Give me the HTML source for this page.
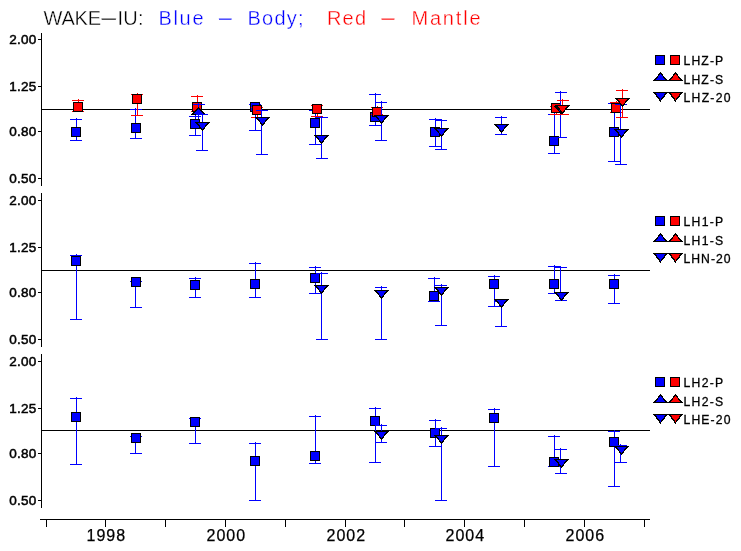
<!DOCTYPE html>
<html lang="en"><head><meta charset="utf-8"><title>WAKE-IU: Blue - Body; Red - Mantle</title>
<style>
html,body{margin:0;padding:0;background:#fff;}
svg{display:block;}
text{font-family:"Liberation Sans",sans-serif;}
.tt{font-size:20px;stroke:#fff;stroke-width:0.35px;}
.yt{font-size:13.5px;letter-spacing:0.3px;stroke:#000;stroke-width:0.5px;}
.xt{font-size:16px;stroke:#000;stroke-width:0.25px;}
.lg{font-size:12.2px;stroke:#000;stroke-width:0.3px;}
</style></head>
<body>
<svg width="741" height="551" viewBox="0 0 741 551">
<rect x="0" y="0" width="741" height="551" fill="#ffffff"/>
<g shape-rendering="crispEdges">
<rect x="41" y="33" width="1" height="153" fill="#000000"/>
<rect x="41" y="193" width="1" height="154" fill="#000000"/>
<rect x="41" y="354" width="1" height="154" fill="#000000"/>
<rect x="38" y="39" width="3" height="1" fill="#000000"/>
<rect x="38" y="86" width="3" height="1" fill="#000000"/>
<rect x="38" y="131" width="3" height="1" fill="#000000"/>
<rect x="38" y="178" width="3" height="1" fill="#000000"/>
<rect x="38" y="200" width="3" height="1" fill="#000000"/>
<rect x="38" y="247" width="3" height="1" fill="#000000"/>
<rect x="38" y="292" width="3" height="1" fill="#000000"/>
<rect x="38" y="339" width="3" height="1" fill="#000000"/>
<rect x="38" y="361" width="3" height="1" fill="#000000"/>
<rect x="38" y="408" width="3" height="1" fill="#000000"/>
<rect x="38" y="453" width="3" height="1" fill="#000000"/>
<rect x="38" y="500" width="3" height="1" fill="#000000"/>
<rect x="40" y="519" width="610" height="1" fill="#000000"/>
<rect x="46" y="519" width="1" height="8" fill="#000000"/>
<rect x="105" y="519" width="1" height="8" fill="#000000"/>
<rect x="165" y="519" width="1" height="8" fill="#000000"/>
<rect x="225" y="519" width="1" height="8" fill="#000000"/>
<rect x="285" y="519" width="1" height="8" fill="#000000"/>
<rect x="345" y="519" width="1" height="8" fill="#000000"/>
<rect x="404" y="519" width="1" height="8" fill="#000000"/>
<rect x="464" y="519" width="1" height="8" fill="#000000"/>
<rect x="524" y="519" width="1" height="8" fill="#000000"/>
<rect x="584" y="519" width="1" height="8" fill="#000000"/>
<rect x="644" y="519" width="1" height="8" fill="#000000"/>
<rect x="42" y="109" width="608" height="1" fill="#000000"/>
<rect x="42" y="270" width="608" height="1" fill="#000000"/>
<rect x="42" y="430" width="608" height="1" fill="#000000"/>
<rect x="76" y="118" width="1" height="23" fill="#0000ff"/>
<rect x="70" y="119" width="12" height="1" fill="#0000ff"/>
<rect x="70" y="140" width="12" height="1" fill="#0000ff"/>
<rect x="135" y="108" width="1" height="31" fill="#0000ff"/>
<rect x="130" y="109" width="12" height="1" fill="#0000ff"/>
<rect x="130" y="138" width="12" height="1" fill="#0000ff"/>
<rect x="195" y="115" width="1" height="21" fill="#0000ff"/>
<rect x="189" y="116" width="12" height="1" fill="#0000ff"/>
<rect x="189" y="135" width="12" height="1" fill="#0000ff"/>
<rect x="255" y="103" width="1" height="28" fill="#0000ff"/>
<rect x="249" y="104" width="12" height="1" fill="#0000ff"/>
<rect x="249" y="130" width="12" height="1" fill="#0000ff"/>
<rect x="315" y="109" width="1" height="36" fill="#0000ff"/>
<rect x="309" y="110" width="12" height="1" fill="#0000ff"/>
<rect x="309" y="144" width="12" height="1" fill="#0000ff"/>
<rect x="375" y="93" width="1" height="33" fill="#0000ff"/>
<rect x="369" y="94" width="12" height="1" fill="#0000ff"/>
<rect x="369" y="125" width="12" height="1" fill="#0000ff"/>
<rect x="435" y="118" width="1" height="29" fill="#0000ff"/>
<rect x="429" y="119" width="12" height="1" fill="#0000ff"/>
<rect x="429" y="146" width="12" height="1" fill="#0000ff"/>
<rect x="554" y="113" width="1" height="41" fill="#0000ff"/>
<rect x="548" y="114" width="12" height="1" fill="#0000ff"/>
<rect x="548" y="153" width="12" height="1" fill="#0000ff"/>
<rect x="614" y="102" width="1" height="60" fill="#0000ff"/>
<rect x="608" y="103" width="12" height="1" fill="#0000ff"/>
<rect x="608" y="161" width="12" height="1" fill="#0000ff"/>
<rect x="71.5" y="127.5" width="9" height="9" fill="#0000ff" stroke="#000000" stroke-width="1"/>
<rect x="131.5" y="123.5" width="9" height="9" fill="#0000ff" stroke="#000000" stroke-width="1"/>
<rect x="190.5" y="119.5" width="9" height="9" fill="#0000ff" stroke="#000000" stroke-width="1"/>
<rect x="250.5" y="102.5" width="9" height="9" fill="#0000ff" stroke="#000000" stroke-width="1"/>
<rect x="310.5" y="118.5" width="9" height="9" fill="#0000ff" stroke="#000000" stroke-width="1"/>
<rect x="370.5" y="112.5" width="9" height="9" fill="#0000ff" stroke="#000000" stroke-width="1"/>
<rect x="430.5" y="127.5" width="9" height="9" fill="#0000ff" stroke="#000000" stroke-width="1"/>
<rect x="549.5" y="136.5" width="9" height="9" fill="#0000ff" stroke="#000000" stroke-width="1"/>
<rect x="609.5" y="127.5" width="9" height="9" fill="#0000ff" stroke="#000000" stroke-width="1"/>
<rect x="78" y="99" width="1" height="13" fill="#ff0000"/>
<rect x="72" y="100" width="12" height="1" fill="#ff0000"/>
<rect x="72" y="111" width="12" height="1" fill="#ff0000"/>
<rect x="137" y="93" width="1" height="23" fill="#ff0000"/>
<rect x="131" y="94" width="12" height="1" fill="#ff0000"/>
<rect x="131" y="115" width="12" height="1" fill="#ff0000"/>
<rect x="197" y="95" width="1" height="17" fill="#ff0000"/>
<rect x="191" y="96" width="12" height="1" fill="#ff0000"/>
<rect x="191" y="111" width="12" height="1" fill="#ff0000"/>
<rect x="257" y="106" width="1" height="12" fill="#ff0000"/>
<rect x="251" y="107" width="12" height="1" fill="#ff0000"/>
<rect x="251" y="117" width="12" height="1" fill="#ff0000"/>
<rect x="317" y="104" width="1" height="13" fill="#ff0000"/>
<rect x="311" y="105" width="12" height="1" fill="#ff0000"/>
<rect x="311" y="116" width="12" height="1" fill="#ff0000"/>
<rect x="377" y="106" width="1" height="9" fill="#ff0000"/>
<rect x="371" y="107" width="12" height="1" fill="#ff0000"/>
<rect x="371" y="114" width="12" height="1" fill="#ff0000"/>
<rect x="556" y="105" width="1" height="10" fill="#ff0000"/>
<rect x="550" y="106" width="12" height="1" fill="#ff0000"/>
<rect x="550" y="114" width="12" height="1" fill="#ff0000"/>
<rect x="616" y="101" width="1" height="12" fill="#ff0000"/>
<rect x="610" y="102" width="12" height="1" fill="#ff0000"/>
<rect x="610" y="112" width="12" height="1" fill="#ff0000"/>
<rect x="73.5" y="102.5" width="9" height="9" fill="#ff0000" stroke="#000000" stroke-width="1"/>
<rect x="132.5" y="94.5" width="9" height="9" fill="#ff0000" stroke="#000000" stroke-width="1"/>
<rect x="192.5" y="102.5" width="9" height="9" fill="#ff0000" stroke="#000000" stroke-width="1"/>
<rect x="252.5" y="105.5" width="9" height="9" fill="#ff0000" stroke="#000000" stroke-width="1"/>
<rect x="312.5" y="104.5" width="9" height="9" fill="#ff0000" stroke="#000000" stroke-width="1"/>
<rect x="372.5" y="107.5" width="9" height="9" fill="#ff0000" stroke="#000000" stroke-width="1"/>
<rect x="551.5" y="103.5" width="9" height="9" fill="#ff0000" stroke="#000000" stroke-width="1"/>
<rect x="611.5" y="103.5" width="9" height="9" fill="#ff0000" stroke="#000000" stroke-width="1"/>
<rect x="198" y="103" width="1" height="16" fill="#0000ff"/>
<rect x="193" y="104" width="12" height="1" fill="#0000ff"/>
<polygon points="191,115 206,115 198.5,107" fill="#000000"/>
<polygon points="193.5,114 203.5,114 198.5,108.67" fill="#0000ff"/>
<rect x="202" y="113" width="1" height="38" fill="#0000ff"/>
<rect x="196" y="114" width="12" height="1" fill="#0000ff"/>
<rect x="196" y="150" width="12" height="1" fill="#0000ff"/>
<rect x="261" y="109" width="1" height="46" fill="#0000ff"/>
<rect x="256" y="110" width="12" height="1" fill="#0000ff"/>
<rect x="256" y="154" width="12" height="1" fill="#0000ff"/>
<rect x="321" y="116" width="1" height="43" fill="#0000ff"/>
<rect x="316" y="117" width="12" height="1" fill="#0000ff"/>
<rect x="316" y="158" width="12" height="1" fill="#0000ff"/>
<rect x="381" y="101" width="1" height="40" fill="#0000ff"/>
<rect x="375" y="102" width="12" height="1" fill="#0000ff"/>
<rect x="375" y="140" width="12" height="1" fill="#0000ff"/>
<rect x="441" y="119" width="1" height="31" fill="#0000ff"/>
<rect x="435" y="120" width="12" height="1" fill="#0000ff"/>
<rect x="435" y="149" width="12" height="1" fill="#0000ff"/>
<rect x="501" y="116" width="1" height="19" fill="#0000ff"/>
<rect x="495" y="117" width="12" height="1" fill="#0000ff"/>
<rect x="495" y="134" width="12" height="1" fill="#0000ff"/>
<rect x="560" y="91" width="1" height="47" fill="#0000ff"/>
<rect x="555" y="92" width="12" height="1" fill="#0000ff"/>
<rect x="555" y="137" width="12" height="1" fill="#0000ff"/>
<rect x="620" y="103" width="1" height="62" fill="#0000ff"/>
<rect x="615" y="104" width="12" height="1" fill="#0000ff"/>
<rect x="615" y="164" width="12" height="1" fill="#0000ff"/>
<polygon points="195,122 210,122 202.5,131" fill="#000000"/>
<polygon points="197.5,123 207.5,123 202.5,129.00" fill="#0000ff"/>
<polygon points="255,117 270,117 262.5,126" fill="#000000"/>
<polygon points="257.5,118 267.5,118 262.5,124.00" fill="#0000ff"/>
<polygon points="314,135 329,135 321.5,144" fill="#000000"/>
<polygon points="316.5,136 326.5,136 321.5,142.00" fill="#0000ff"/>
<polygon points="374,115 389,115 381.5,124" fill="#000000"/>
<polygon points="376.5,116 386.5,116 381.5,122.00" fill="#0000ff"/>
<polygon points="434,128 449,128 441.5,137" fill="#000000"/>
<polygon points="436.5,129 446.5,129 441.5,135.00" fill="#0000ff"/>
<polygon points="494,124 509,124 501.5,133" fill="#000000"/>
<polygon points="496.5,125 506.5,125 501.5,131.00" fill="#0000ff"/>
<polygon points="554,106 569,106 561.5,115" fill="#000000"/>
<polygon points="556.5,107 566.5,107 561.5,113.00" fill="#0000ff"/>
<polygon points="614,129 629,129 621.5,138" fill="#000000"/>
<polygon points="616.5,130 626.5,130 621.5,136.00" fill="#0000ff"/>
<rect x="562" y="99" width="1" height="16" fill="#ff0000"/>
<rect x="557" y="100" width="12" height="1" fill="#ff0000"/>
<rect x="557" y="114" width="12" height="1" fill="#ff0000"/>
<rect x="622" y="89" width="1" height="29" fill="#ff0000"/>
<rect x="616" y="90" width="12" height="1" fill="#ff0000"/>
<rect x="616" y="117" width="12" height="1" fill="#ff0000"/>
<polygon points="555,105 570,105 562.5,114" fill="#000000"/>
<polygon points="557.5,106 567.5,106 562.5,112.00" fill="#ff0000"/>
<polygon points="615,98 630,98 622.5,107" fill="#000000"/>
<polygon points="617.5,99 627.5,99 622.5,105.00" fill="#ff0000"/>
<rect x="76" y="254" width="1" height="66" fill="#0000ff"/>
<rect x="70" y="255" width="12" height="1" fill="#0000ff"/>
<rect x="70" y="319" width="12" height="1" fill="#0000ff"/>
<rect x="135" y="280" width="1" height="28" fill="#0000ff"/>
<rect x="130" y="281" width="12" height="1" fill="#0000ff"/>
<rect x="130" y="307" width="12" height="1" fill="#0000ff"/>
<rect x="195" y="277" width="1" height="21" fill="#0000ff"/>
<rect x="189" y="278" width="12" height="1" fill="#0000ff"/>
<rect x="189" y="297" width="12" height="1" fill="#0000ff"/>
<rect x="255" y="262" width="1" height="36" fill="#0000ff"/>
<rect x="249" y="263" width="12" height="1" fill="#0000ff"/>
<rect x="249" y="297" width="12" height="1" fill="#0000ff"/>
<rect x="315" y="266" width="1" height="28" fill="#0000ff"/>
<rect x="309" y="267" width="12" height="1" fill="#0000ff"/>
<rect x="309" y="293" width="12" height="1" fill="#0000ff"/>
<rect x="434" y="277" width="1" height="25" fill="#0000ff"/>
<rect x="428" y="278" width="12" height="1" fill="#0000ff"/>
<rect x="428" y="301" width="12" height="1" fill="#0000ff"/>
<rect x="494" y="275" width="1" height="32" fill="#0000ff"/>
<rect x="488" y="276" width="12" height="1" fill="#0000ff"/>
<rect x="488" y="306" width="12" height="1" fill="#0000ff"/>
<rect x="554" y="265" width="1" height="29" fill="#0000ff"/>
<rect x="548" y="266" width="12" height="1" fill="#0000ff"/>
<rect x="548" y="293" width="12" height="1" fill="#0000ff"/>
<rect x="614" y="274" width="1" height="30" fill="#0000ff"/>
<rect x="608" y="275" width="12" height="1" fill="#0000ff"/>
<rect x="608" y="303" width="12" height="1" fill="#0000ff"/>
<rect x="71.5" y="256.5" width="9" height="9" fill="#0000ff" stroke="#000000" stroke-width="1"/>
<rect x="131.5" y="277.5" width="9" height="9" fill="#0000ff" stroke="#000000" stroke-width="1"/>
<rect x="190.5" y="280.5" width="9" height="9" fill="#0000ff" stroke="#000000" stroke-width="1"/>
<rect x="250.5" y="279.5" width="9" height="9" fill="#0000ff" stroke="#000000" stroke-width="1"/>
<rect x="310.5" y="273.5" width="9" height="9" fill="#0000ff" stroke="#000000" stroke-width="1"/>
<rect x="429.5" y="291.5" width="9" height="9" fill="#0000ff" stroke="#000000" stroke-width="1"/>
<rect x="489.5" y="279.5" width="9" height="9" fill="#0000ff" stroke="#000000" stroke-width="1"/>
<rect x="549.5" y="279.5" width="9" height="9" fill="#0000ff" stroke="#000000" stroke-width="1"/>
<rect x="609.5" y="279.5" width="9" height="9" fill="#0000ff" stroke="#000000" stroke-width="1"/>
<rect x="321" y="272" width="1" height="68" fill="#0000ff"/>
<rect x="316" y="273" width="12" height="1" fill="#0000ff"/>
<rect x="316" y="339" width="12" height="1" fill="#0000ff"/>
<rect x="381" y="286" width="1" height="54" fill="#0000ff"/>
<rect x="375" y="287" width="12" height="1" fill="#0000ff"/>
<rect x="375" y="339" width="12" height="1" fill="#0000ff"/>
<rect x="441" y="284" width="1" height="42" fill="#0000ff"/>
<rect x="435" y="285" width="12" height="1" fill="#0000ff"/>
<rect x="435" y="325" width="12" height="1" fill="#0000ff"/>
<rect x="501" y="300" width="1" height="27" fill="#0000ff"/>
<rect x="495" y="301" width="12" height="1" fill="#0000ff"/>
<rect x="495" y="326" width="12" height="1" fill="#0000ff"/>
<rect x="560" y="266" width="1" height="35" fill="#0000ff"/>
<rect x="555" y="267" width="12" height="1" fill="#0000ff"/>
<rect x="555" y="300" width="12" height="1" fill="#0000ff"/>
<polygon points="314,285 329,285 321.5,294" fill="#000000"/>
<polygon points="316.5,286 326.5,286 321.5,292.00" fill="#0000ff"/>
<polygon points="374,290 389,290 381.5,299" fill="#000000"/>
<polygon points="376.5,291 386.5,291 381.5,297.00" fill="#0000ff"/>
<polygon points="434,287 449,287 441.5,296" fill="#000000"/>
<polygon points="436.5,288 446.5,288 441.5,294.00" fill="#0000ff"/>
<polygon points="494,299 509,299 501.5,308" fill="#000000"/>
<polygon points="496.5,300 506.5,300 501.5,306.00" fill="#0000ff"/>
<polygon points="554,292 569,292 561.5,301" fill="#000000"/>
<polygon points="556.5,293 566.5,293 561.5,299.00" fill="#0000ff"/>
<rect x="76" y="397" width="1" height="68" fill="#0000ff"/>
<rect x="70" y="398" width="12" height="1" fill="#0000ff"/>
<rect x="70" y="464" width="12" height="1" fill="#0000ff"/>
<rect x="135" y="435" width="1" height="19" fill="#0000ff"/>
<rect x="130" y="436" width="12" height="1" fill="#0000ff"/>
<rect x="130" y="453" width="12" height="1" fill="#0000ff"/>
<rect x="195" y="417" width="1" height="27" fill="#0000ff"/>
<rect x="189" y="418" width="12" height="1" fill="#0000ff"/>
<rect x="189" y="443" width="12" height="1" fill="#0000ff"/>
<rect x="255" y="442" width="1" height="59" fill="#0000ff"/>
<rect x="249" y="443" width="12" height="1" fill="#0000ff"/>
<rect x="249" y="500" width="12" height="1" fill="#0000ff"/>
<rect x="315" y="415" width="1" height="49" fill="#0000ff"/>
<rect x="309" y="416" width="12" height="1" fill="#0000ff"/>
<rect x="309" y="463" width="12" height="1" fill="#0000ff"/>
<rect x="375" y="407" width="1" height="56" fill="#0000ff"/>
<rect x="369" y="408" width="12" height="1" fill="#0000ff"/>
<rect x="369" y="462" width="12" height="1" fill="#0000ff"/>
<rect x="435" y="419" width="1" height="28" fill="#0000ff"/>
<rect x="429" y="420" width="12" height="1" fill="#0000ff"/>
<rect x="429" y="446" width="12" height="1" fill="#0000ff"/>
<rect x="494" y="408" width="1" height="59" fill="#0000ff"/>
<rect x="488" y="409" width="12" height="1" fill="#0000ff"/>
<rect x="488" y="466" width="12" height="1" fill="#0000ff"/>
<rect x="554" y="435" width="1" height="32" fill="#0000ff"/>
<rect x="548" y="436" width="12" height="1" fill="#0000ff"/>
<rect x="548" y="466" width="12" height="1" fill="#0000ff"/>
<rect x="614" y="430" width="1" height="57" fill="#0000ff"/>
<rect x="608" y="431" width="12" height="1" fill="#0000ff"/>
<rect x="608" y="486" width="12" height="1" fill="#0000ff"/>
<rect x="71.5" y="412.5" width="9" height="9" fill="#0000ff" stroke="#000000" stroke-width="1"/>
<rect x="131.5" y="433.5" width="9" height="9" fill="#0000ff" stroke="#000000" stroke-width="1"/>
<rect x="190.5" y="417.5" width="9" height="9" fill="#0000ff" stroke="#000000" stroke-width="1"/>
<rect x="250.5" y="456.5" width="9" height="9" fill="#0000ff" stroke="#000000" stroke-width="1"/>
<rect x="310.5" y="451.5" width="9" height="9" fill="#0000ff" stroke="#000000" stroke-width="1"/>
<rect x="370.5" y="416.5" width="9" height="9" fill="#0000ff" stroke="#000000" stroke-width="1"/>
<rect x="430.5" y="428.5" width="9" height="9" fill="#0000ff" stroke="#000000" stroke-width="1"/>
<rect x="489.5" y="413.5" width="9" height="9" fill="#0000ff" stroke="#000000" stroke-width="1"/>
<rect x="549.5" y="457.5" width="9" height="9" fill="#0000ff" stroke="#000000" stroke-width="1"/>
<rect x="609.5" y="437.5" width="9" height="9" fill="#0000ff" stroke="#000000" stroke-width="1"/>
<rect x="381" y="424" width="1" height="19" fill="#0000ff"/>
<rect x="375" y="425" width="12" height="1" fill="#0000ff"/>
<rect x="375" y="442" width="12" height="1" fill="#0000ff"/>
<rect x="441" y="427" width="1" height="74" fill="#0000ff"/>
<rect x="435" y="428" width="12" height="1" fill="#0000ff"/>
<rect x="435" y="500" width="12" height="1" fill="#0000ff"/>
<rect x="560" y="448" width="1" height="26" fill="#0000ff"/>
<rect x="555" y="449" width="12" height="1" fill="#0000ff"/>
<rect x="555" y="473" width="12" height="1" fill="#0000ff"/>
<rect x="620" y="444" width="1" height="19" fill="#0000ff"/>
<rect x="615" y="445" width="12" height="1" fill="#0000ff"/>
<rect x="615" y="462" width="12" height="1" fill="#0000ff"/>
<polygon points="374,431 389,431 381.5,440" fill="#000000"/>
<polygon points="376.5,432 386.5,432 381.5,438.00" fill="#0000ff"/>
<polygon points="434,435 449,435 441.5,444" fill="#000000"/>
<polygon points="436.5,436 446.5,436 441.5,442.00" fill="#0000ff"/>
<polygon points="554,459 569,459 561.5,468" fill="#000000"/>
<polygon points="556.5,460 566.5,460 561.5,466.00" fill="#0000ff"/>
<polygon points="614,446 629,446 621.5,455" fill="#000000"/>
<polygon points="616.5,447 626.5,447 621.5,453.00" fill="#0000ff"/>
<rect x="655.5" y="55.5" width="9" height="9" fill="#0000ff" stroke="#000000" stroke-width="1"/>
<rect x="670.5" y="55.5" width="9" height="9" fill="#ff0000" stroke="#000000" stroke-width="1"/>
<polygon points="653,81 668,81 660.5,72" fill="#000000"/>
<polygon points="655.5,80 665.5,80 660.5,74.00" fill="#0000ff"/>
<polygon points="668,81 683,81 675.5,72" fill="#000000"/>
<polygon points="670.5,80 680.5,80 675.5,74.00" fill="#ff0000"/>
<polygon points="653,92 668,92 660.5,101.8" fill="#000000"/>
<polygon points="655.5,93 665.5,93 660.5,99.53" fill="#0000ff"/>
<polygon points="668,92 683,92 675.5,101.8" fill="#000000"/>
<polygon points="670.5,93 680.5,93 675.5,99.53" fill="#ff0000"/>
<rect x="655.5" y="216.5" width="9" height="9" fill="#0000ff" stroke="#000000" stroke-width="1"/>
<rect x="670.5" y="216.5" width="9" height="9" fill="#ff0000" stroke="#000000" stroke-width="1"/>
<polygon points="653,242 668,242 660.5,233" fill="#000000"/>
<polygon points="655.5,241 665.5,241 660.5,235.00" fill="#0000ff"/>
<polygon points="668,242 683,242 675.5,233" fill="#000000"/>
<polygon points="670.5,241 680.5,241 675.5,235.00" fill="#ff0000"/>
<polygon points="653,253 668,253 660.5,262.8" fill="#000000"/>
<polygon points="655.5,254 665.5,254 660.5,260.53" fill="#0000ff"/>
<polygon points="668,253 683,253 675.5,262.8" fill="#000000"/>
<polygon points="670.5,254 680.5,254 675.5,260.53" fill="#ff0000"/>
<rect x="655.5" y="377.5" width="9" height="9" fill="#0000ff" stroke="#000000" stroke-width="1"/>
<rect x="670.5" y="377.5" width="9" height="9" fill="#ff0000" stroke="#000000" stroke-width="1"/>
<polygon points="653,403 668,403 660.5,394" fill="#000000"/>
<polygon points="655.5,402 665.5,402 660.5,396.00" fill="#0000ff"/>
<polygon points="668,403 683,403 675.5,394" fill="#000000"/>
<polygon points="670.5,402 680.5,402 675.5,396.00" fill="#ff0000"/>
<polygon points="653,414 668,414 660.5,423.8" fill="#000000"/>
<polygon points="655.5,415 665.5,415 660.5,421.53" fill="#0000ff"/>
<polygon points="668,414 683,414 675.5,423.8" fill="#000000"/>
<polygon points="670.5,415 680.5,415 675.5,421.53" fill="#ff0000"/>
</g>
<g>
<text x="683.5" y="65" class="lg" textLength="39.7" lengthAdjust="spacing">LHZ-P</text>
<text x="683.5" y="83.5" class="lg" textLength="39.7" lengthAdjust="spacing">LHZ-S</text>
<text x="683.5" y="101.5" class="lg" textLength="47" lengthAdjust="spacing">LHZ-20</text>
<text x="683.5" y="226" class="lg" textLength="39.7" lengthAdjust="spacing">LH1-P</text>
<text x="683.5" y="244.5" class="lg" textLength="39.7" lengthAdjust="spacing">LH1-S</text>
<text x="683.5" y="262.5" class="lg" textLength="47" lengthAdjust="spacing">LHN-20</text>
<text x="683.5" y="387" class="lg" textLength="39.7" lengthAdjust="spacing">LH2-P</text>
<text x="683.5" y="405.5" class="lg" textLength="39.7" lengthAdjust="spacing">LH2-S</text>
<text x="683.5" y="423.5" class="lg" textLength="47" lengthAdjust="spacing">LHE-20</text>
<text x="36.7" y="44.0" class="yt" text-anchor="end">2.00</text>
<text x="36.7" y="91.0" class="yt" text-anchor="end">1.25</text>
<text x="36.7" y="136.0" class="yt" text-anchor="end">0.80</text>
<text x="36.7" y="183.0" class="yt" text-anchor="end">0.50</text>
<text x="36.7" y="205.0" class="yt" text-anchor="end">2.00</text>
<text x="36.7" y="252.0" class="yt" text-anchor="end">1.25</text>
<text x="36.7" y="297.0" class="yt" text-anchor="end">0.80</text>
<text x="36.7" y="344.0" class="yt" text-anchor="end">0.50</text>
<text x="36.7" y="366.0" class="yt" text-anchor="end">2.00</text>
<text x="36.7" y="413.0" class="yt" text-anchor="end">1.25</text>
<text x="36.7" y="458.0" class="yt" text-anchor="end">0.80</text>
<text x="36.7" y="505.0" class="yt" text-anchor="end">0.50</text>
<text x="105.8" y="541" class="xt" text-anchor="middle" textLength="38.5" lengthAdjust="spacing">1998</text>
<text x="225.8" y="541" class="xt" text-anchor="middle" textLength="38.5" lengthAdjust="spacing">2000</text>
<text x="345.8" y="541" class="xt" text-anchor="middle" textLength="38.5" lengthAdjust="spacing">2002</text>
<text x="464.8" y="541" class="xt" text-anchor="middle" textLength="38.5" lengthAdjust="spacing">2004</text>
<text x="584.8" y="541" class="xt" text-anchor="middle" textLength="38.5" lengthAdjust="spacing">2006</text>
<text x="43.5" y="25" class="tt" fill="#000000" textLength="57.5" lengthAdjust="spacing">WAKE</text>
<text transform="translate(98.25,25) scale(3.15,1)" class="tt" fill="#000000">-</text>
<text x="117.6" y="25" class="tt" fill="#000000" textLength="26" lengthAdjust="spacing">IU:</text>
<text x="158.5" y="25" class="tt" fill="#0000ff" textLength="45" lengthAdjust="spacing">Blue</text>
<text transform="translate(216.1,25) scale(2.78,1)" class="tt" fill="#0000ff">-</text>
<text x="247.5" y="25" class="tt" fill="#0000ff" textLength="56" lengthAdjust="spacing">Body;</text>
<text x="327" y="25" class="tt" fill="#ff0000" textLength="39" lengthAdjust="spacing">Red</text>
<text transform="translate(378.5,25) scale(2.85,1)" class="tt" fill="#ff0000">-</text>
<text x="411.5" y="25" class="tt" fill="#ff0000" textLength="69" lengthAdjust="spacing">Mantle</text>
</g>
</svg>
</body></html>
